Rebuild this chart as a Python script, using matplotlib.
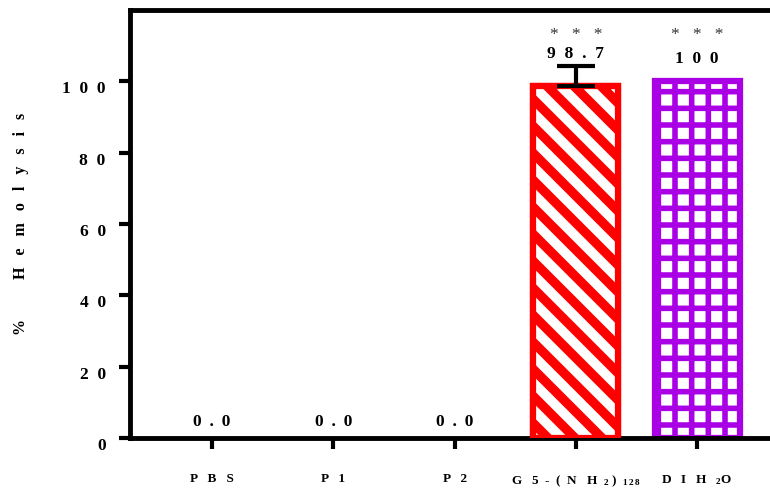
import numpy as np
import matplotlib.pyplot as plt
from matplotlib import transforms
from matplotlib.collections import LineCollection

plt.rcParams['font.family'] = ['Liberation Serif', 'DejaVu Serif']
plt.rcParams['font.weight'] = 'bold'
plt.rcParams['mathtext.fontset'] = 'custom'
plt.rcParams['mathtext.rm'] = 'Liberation Serif'
plt.rcParams['mathtext.it'] = 'Liberation Serif'
plt.rcParams['mathtext.bf'] = 'Liberation Serif:bold'
plt.rcParams['hatch.linewidth'] = 4.0

# data
groups = ['PBS', 'P1', 'P2', 'G5-(NH2)128', 'DIH2O']
hemolysis = [0.0, 0.0, 0.0, 98.7, 100.0]
err_up = [0, 0, 0, 5.5, 0]
value_labels = ['0.0', '0.0', '0.0', '98.7', '100']
signif = ['', '', '', '***', '***']
tick_labels = ['P   B   S', 'P   1', 'P   2',
               r'G   5  -  (  N   H  $_{2}$ )  $_{1\,2\,8}$',
               r'D   I   H   $_{2}$O']
label_pad = [4.5, 4.5, 4.5, 3.6, 6.4]

def spaced(s, gap='  '):
    return gap.join(s)

fig = plt.figure(figsize=(7.70, 4.91), dpi=100)
ax = fig.add_axes([130 / 770, 53 / 491, 640 / 770, 428 / 491])

x = np.arange(len(groups))
red = '#ff0000'
purple = '#aa00e6'

lws = [4.5 if v > 0 else 0 for v in hemolysis]
bars = ax.bar(x, hemolysis, width=0.7, color=red, edgecolor=red, linewidth=lws, zorder=2)
# purple bar: white face with purple grid hatch
bars[4].set_facecolor('white')
bars[4].set_edgecolor(purple)
bars[4].set_hatch('+')

ax.set_xlim(-0.676, -0.676 + 640 / 121.3)
ax.set_ylim(0, 120)

# white diagonal stripes on the red bar, clipped to the bar
fig.canvas.draw()
rb = bars[3]
bb = rb.get_window_extent()
p = 27
segs = [[(bb.x0 + k * p, bb.y1), (bb.x0 + k * p + 500, bb.y1 - 500)] for k in range(-20, 6)]
lc = LineCollection(segs, colors='white', linewidths=7.0, transform=transforms.IdentityTransform(),
                    zorder=3)
ax.add_collection(lc, autolim=False)
lc.set_clip_path(rb)
ax.bar(x[3], hemolysis[3], width=0.7, color='none', edgecolor=red, linewidth=4.5, zorder=4)

ax.errorbar(x[3], hemolysis[3], yerr=[[0], [err_up[3]]], fmt='none', ecolor='black',
            elinewidth=3, capsize=14, capthick=3, zorder=5)

for i, v in enumerate(hemolysis):
    top = v + err_up[i]
    if v == 0:
        ax.text(x[i], top + label_pad[i], spaced(value_labels[i], ' \u2009'), ha='center',
                va='center', fontsize=12.5, fontweight='bold')
    else:
        ax.text(x[i], top + label_pad[i], spaced(value_labels[i]), ha='center', va='center',
                fontsize=12.5, fontweight='bold')
        ax.text(x[i], 113, spaced(signif[i], '   '), ha='center', va='center',
                fontsize=12.5, fontweight='normal', color='#333333')

ax.set_xticks(x)
ax.set_xticklabels(tick_labels, fontsize=9.5)
ax.set_yticks([0, 20, 40, 60, 80, 100])
ax.set_yticklabels([spaced(str(v)) for v in [0, 20, 40, 60, 80, 100]], fontsize=12.5, va='top')
ax.set_ylabel(spaced('%') + '          ' + spaced('Hemolysis', '   '), fontsize=11.5,
              fontweight='bold')
ax.yaxis.set_label_coords(-0.170, 0.5)
ax.yaxis.label.set_va('center')

ax.spines['right'].set_visible(False)
for s in ['left', 'top', 'bottom']:
    ax.spines[s].set_linewidth(3.5)
ax.tick_params(axis='both', length=8, width=3, direction='out')
ax.tick_params(axis='y', pad=9.5)
ax.tick_params(axis='x', pad=17.5)

fig.savefig('out.png', dpi=100)
